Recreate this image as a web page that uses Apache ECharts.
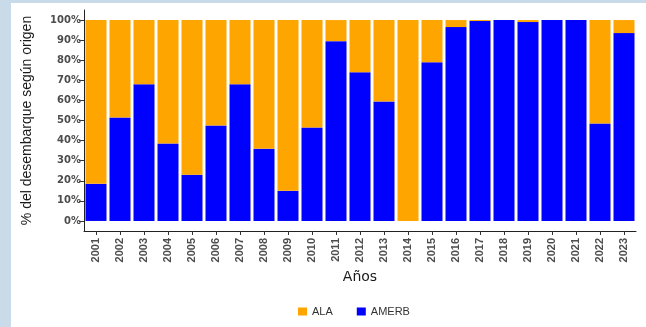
<!DOCTYPE html>
<html>
<head>
<meta charset="utf-8">
<script src="https://cdn.jsdelivr.net/npm/echarts@6/dist/echarts.min.js"></script>
<style>
  html, body { margin: 0; padding: 0; }
  body { width: 646px; height: 327px; background: #c9dbe9; position: relative; overflow: hidden; }
  #panel { position: absolute; left: 11px; top: 3px; width: 635px; height: 324px; background: #ffffff; }
  #chart { position: absolute; left: 0; top: 0; width: 646px; height: 327px; }
</style>
</head>
<body>
<div id="panel"></div>
<div id="chart"></div>
<script>
const years = ['2001','2002','2003','2004','2005','2006','2007','2008','2009','2010','2011','2012',
               '2013','2014','2015','2016','2017','2018','2019','2020','2021','2022','2023'];
const amerb = [18.5, 51.5, 68, 38.5, 23, 47.5, 68, 36, 15, 46.5, 89.5, 74,
               59.5, 0, 79, 96.5, 99.5, 100, 99, 100, 100, 48.5, 93.5];
const ala   = [81.5, 48.5, 32, 61.5, 77, 52.5, 32, 64, 85, 53.5, 10.5, 26,
               40.5, 100, 21, 3.5, 0.5, 0, 1, 0, 0, 51.5, 6.5];
const yTicks = [0, 10, 20, 30, 40, 50, 60, 70, 80, 90, 100];

const chart = echarts.init(document.getElementById('chart'), null, { renderer: 'canvas' });
const axisColor = '#222222';
chart.setOption({
  backgroundColor: 'transparent',
  animation: false,
  grid: { left: 84, width: 552, top: 10, height: 221 },
  legend: {
    data: ['ALA', 'AMERB'],
    left: 298, top: 306, padding: 0,
    itemWidth: 9, itemHeight: 8, itemGap: 24,
    icon: 'rect',
    textStyle: { fontFamily: 'Liberation Sans', fontSize: 11, color: '#333333' }
  },
  xAxis: {
    type: 'category',
    data: years,
    name: 'Años',
    nameLocation: 'middle',
    nameGap: 34,
    nameTextStyle: { fontFamily: 'DejaVu Sans', fontSize: 14, color: '#1a1a1a' },
    axisLine: { show: true, onZero: false, lineStyle: { color: axisColor, width: 1 } },
    axisTick: { show: true, alignWithLabel: true, length: 4, lineStyle: { color: '#333333' } },
    axisLabel: { rotate: 90, margin: 7, fontFamily: 'Liberation Sans', fontWeight: 'bold', fontSize: 11, color: '#4d4d4d' },
    splitLine: { show: false }
  },
  yAxis: {
    type: 'value',
    min: -5, max: 105,
    name: '% del desembarque según origen',
    nameLocation: 'middle',
    nameGap: 50,
    nameTextStyle: { fontFamily: 'Liberation Sans', fontSize: 14, color: '#1a1a1a' },
    axisLine: { show: true, lineStyle: { color: axisColor, width: 1 } },
    axisTick: { show: true, length: 5, customValues: yTicks, lineStyle: { color: '#333333' } },
    axisLabel: { customValues: yTicks, margin: 3, formatter: v => v + '%',
                 fontFamily: 'DejaVu Sans', fontWeight: 'bold', fontSize: 10, color: '#4d4d4d' },
    splitLine: { show: false }
  },
  series: [
    { name: 'AMERB', type: 'bar', stack: 'total', data: amerb, barWidth: 21,
      itemStyle: { color: '#0000ff' } },
    { name: 'ALA', type: 'bar', stack: 'total', data: ala, barWidth: 21,
      itemStyle: { color: '#ffa500' } }
  ]
});
</script>
</body>
</html>
